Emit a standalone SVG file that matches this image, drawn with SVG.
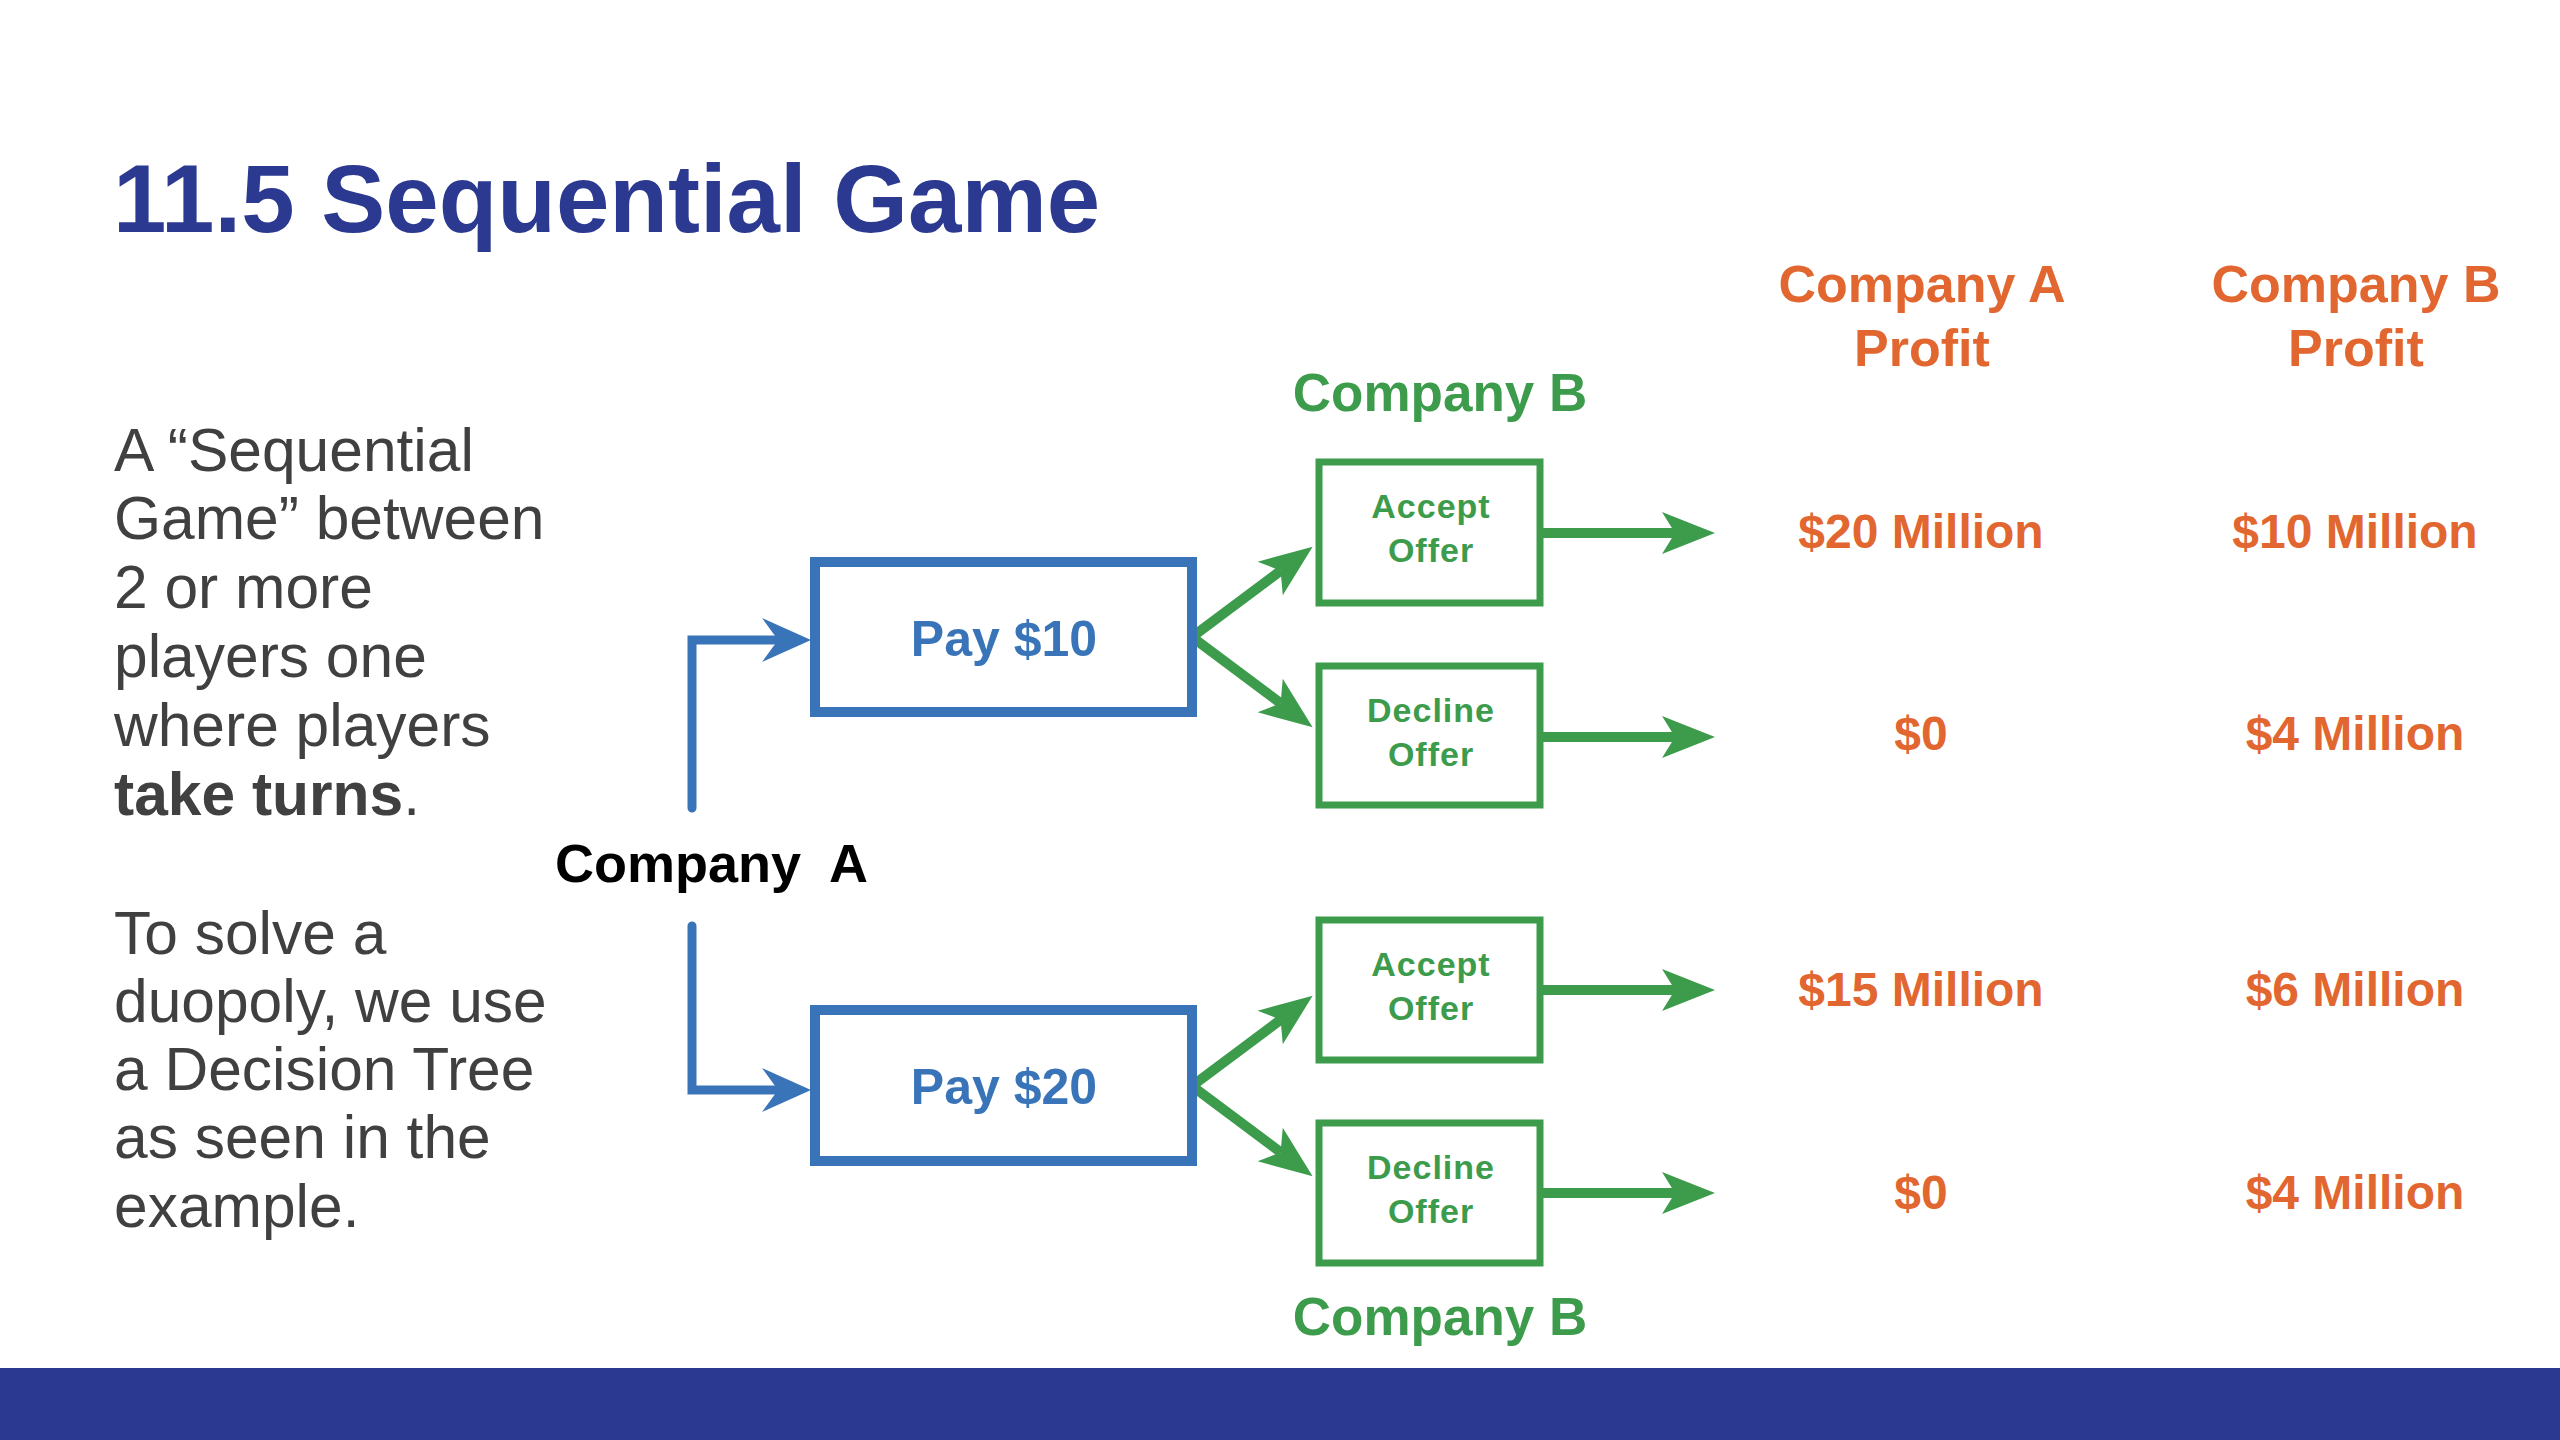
<svg xmlns="http://www.w3.org/2000/svg" width="2560" height="1440" viewBox="0 0 2560 1440">
<style>
.title{font-family:"Liberation Sans",Arial,sans-serif;font-weight:bold;font-size:96px;fill:#2b3990}
.body{font-family:"Liberation Sans",Arial,sans-serif;font-size:60.5px;fill:#404040}
.lbl{font-family:"Liberation Sans",Arial,sans-serif;font-weight:bold}
.bbox{fill:#fff;stroke:#3a74b8;stroke-width:10}
.gbox{fill:#fff;stroke:#3d9b4c;stroke-width:7}
.btxt{font-size:50px;fill:#3a74b8;text-anchor:middle}
.gtxt{font-size:34px;fill:#3d9b4c;text-anchor:middle;letter-spacing:1px}
.ghead{font-size:53px;fill:#3d9b4c;text-anchor:middle}
.otxt{font-size:52px;fill:#e2662f;text-anchor:middle}
.oval{font-size:48px;fill:#e2662f;text-anchor:middle}
.bline{fill:none;stroke:#3a74b8;stroke-width:9;stroke-linejoin:miter;marker-end:url(#ahB)}
.gline{fill:none;stroke:#3d9b4c;stroke-width:10;marker-end:url(#ahG)}
</style>
<defs>
<marker id="ahB" markerUnits="userSpaceOnUse" orient="auto" overflow="visible" markerWidth="60" markerHeight="60" refX="0" refY="0">
<path d="M-16,-22 L33,0 L-16,22 L0,0 Z" fill="#3a74b8"/>
</marker>
<marker id="ahG" markerUnits="userSpaceOnUse" orient="auto" overflow="visible" markerWidth="60" markerHeight="60" refX="0" refY="0">
<path d="M-13,-21 L40,0 L-13,21 L0,0 Z" fill="#3d9b4c"/>
</marker>
</defs>
<rect x="0" y="0" width="2560" height="1440" fill="#ffffff"/>
<text class="title" x="113" y="232">11.5 Sequential Game</text>
<g id="intro">
<text class="body" x="114" y="471">A “Sequential</text>
<text class="body" x="114" y="539">Game” between</text>
<text class="body" x="114" y="608">2 or more</text>
<text class="body" x="114" y="677">players one</text>
<text class="body" x="114" y="746">where players</text>
<text class="body" x="114" y="815"><tspan font-weight="bold">take turns</tspan>.</text>
<text class="body" x="114" y="954">To solve a</text>
<text class="body" x="114" y="1022">duopoly, we use</text>
<text class="body" x="114" y="1090">a Decision Tree</text>
<text class="body" x="114" y="1158">as seen in the</text>
<text class="body" x="114" y="1227">example.</text>
</g>
<g id="connectors">
<path class="bline" d="M692,808 L692,640 L778,640" stroke-linecap="round"/>
<path class="bline" d="M692,926 L692,1090 L778,1090" stroke-linecap="round"/>
<line class="gline" x1="1192" y1="637" x2="1280.6" y2="570.7"/>
<line class="gline" x1="1192" y1="637" x2="1280.6" y2="703.3"/>
<line class="gline" x1="1192" y1="1086" x2="1280.6" y2="1019.7"/>
<line class="gline" x1="1192" y1="1086" x2="1280.6" y2="1152.3"/>
<line class="gline" x1="1540" y1="533" x2="1675" y2="533"/>
<line class="gline" x1="1540" y1="737" x2="1675" y2="737"/>
<line class="gline" x1="1540" y1="990" x2="1675" y2="990"/>
<line class="gline" x1="1540" y1="1193" x2="1675" y2="1193"/>
</g>
<g id="companyA">
<text class="lbl" x="555" y="882" font-size="54" fill="#000" style="white-space:pre">Company  A</text>
</g>
<g id="pay10">
<rect class="bbox" x="815" y="562" width="377" height="150"/>
<text class="lbl btxt" x="1004" y="656">Pay $10</text>
</g>
<g id="pay20">
<rect class="bbox" x="815" y="1010" width="377" height="151"/>
<text class="lbl btxt" x="1004" y="1104">Pay $20</text>
</g>
<g id="companyB-top">
<text class="lbl ghead" x="1440" y="411">Company B</text>
</g>
<g id="companyB-bottom">
<text class="lbl ghead" x="1440" y="1335">Company B</text>
</g>
<g id="accept1">
<rect class="gbox" x="1319" y="462" width="221" height="141"/>
<text class="lbl gtxt" x="1431" y="518">Accept</text>
<text class="lbl gtxt" x="1431" y="562">Offer</text>
</g>
<g id="decline1">
<rect class="gbox" x="1319" y="666" width="221" height="139"/>
<text class="lbl gtxt" x="1431" y="722">Decline</text>
<text class="lbl gtxt" x="1431" y="766">Offer</text>
</g>
<g id="accept2">
<rect class="gbox" x="1319" y="920" width="221" height="140"/>
<text class="lbl gtxt" x="1431" y="976">Accept</text>
<text class="lbl gtxt" x="1431" y="1020">Offer</text>
</g>
<g id="decline2">
<rect class="gbox" x="1319" y="1123" width="221" height="140"/>
<text class="lbl gtxt" x="1431" y="1179">Decline</text>
<text class="lbl gtxt" x="1431" y="1223">Offer</text>
</g>
<g id="headerA">
<text class="lbl otxt" x="1922" y="302">Company A</text>
<text class="lbl otxt" x="1922" y="366">Profit</text>
</g>
<g id="headerB">
<text class="lbl otxt" x="2356" y="302">Company B</text>
<text class="lbl otxt" x="2356" y="366">Profit</text>
</g>
<g id="payoffs">
<text class="lbl oval" x="1921" y="548">$20 Million</text>
<text class="lbl oval" x="2355" y="548">$10 Million</text>
<text class="lbl oval" x="1921" y="750">$0</text>
<text class="lbl oval" x="2355" y="750">$4 Million</text>
<text class="lbl oval" x="1921" y="1006">$15 Million</text>
<text class="lbl oval" x="2355" y="1006">$6 Million</text>
<text class="lbl oval" x="1921" y="1209">$0</text>
<text class="lbl oval" x="2355" y="1209">$4 Million</text>
</g>
<rect x="0" y="1368" width="2560" height="72" fill="#2b3990"/>
</svg>
